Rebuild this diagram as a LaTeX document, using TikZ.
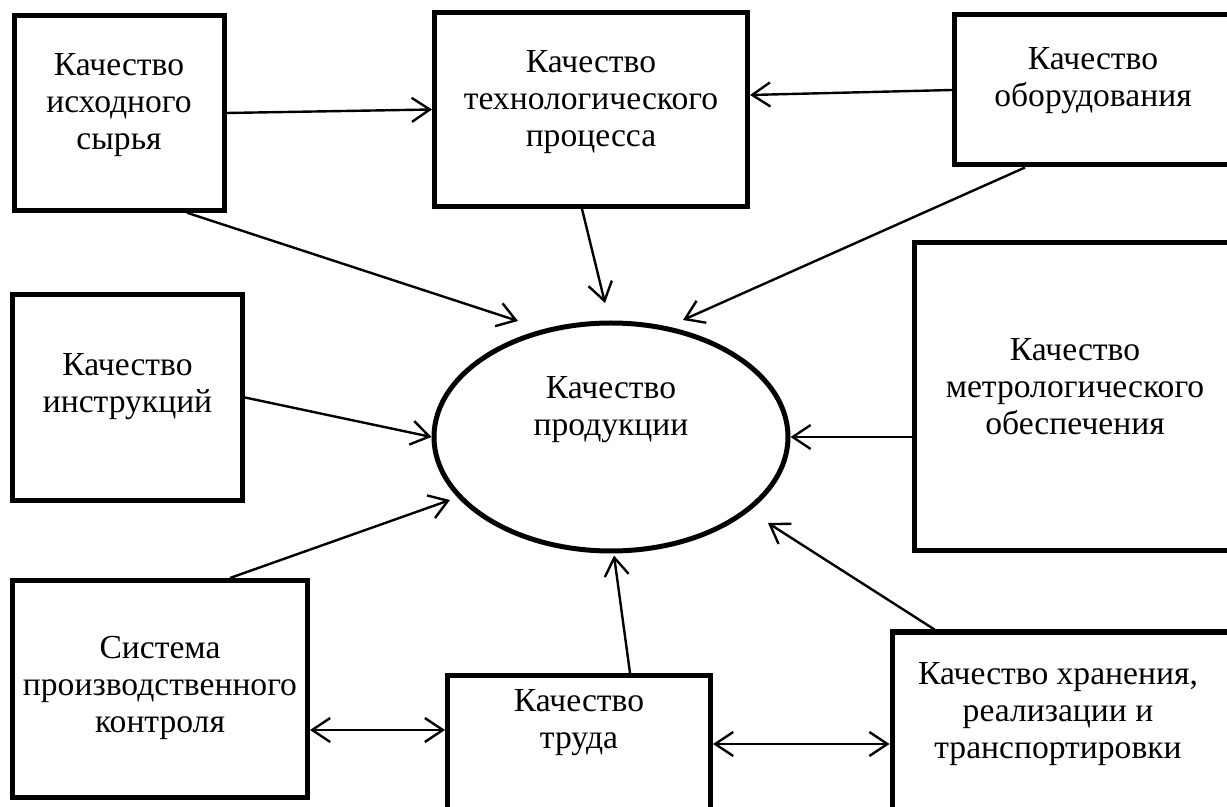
\documentclass[tikz,border=0pt]{standalone}
\usepackage{fontspec}
\setmainfont{Liberation Serif}
\usetikzlibrary{shapes.geometric,arrows.meta,calc}

\begin{document}
\begin{tikzpicture}[
					x = 0.5pt, y = -0.5pt,
					box/.style = {draw, line width = 2.5pt, inner sep = 0pt, align = center, text depth = 11pt},
					arr/.style = {line width = 1.2pt, -{Straight Barb[length = 9pt, width = 12pt]}},
					darr/.style = {line width = 1.2pt, {Straight Barb[length = 9pt, width = 12pt]}-{Straight Barb[length = 9pt, width = 12pt]}},
					every node/.style = {font = \fontsize{16.8}{18.5}\selectfont}]

					\clip (0,0) rectangle (1227,807);
					\fill[white] (0,0) rectangle (1227,807);

					\node[box, minimum width = 105pt, minimum height = 97.25pt] (syr) at (119,113) {Качество\\исходного\\сырья};
					\node[box, minimum width = 156.5pt, minimum height = 97pt] (tech) at (591,109.5) {Качество\\технологического\\процесса};
					\node[box, minimum width = 138.5pt, minimum height = 75pt, text depth = 13pt] (obor) at (1093,90) {Качество\\оборудования};
					\node[box, minimum width = 115pt, minimum height = 103pt, text depth = 14pt] (instr) at (127.5,397.5) {Качество\\инструкций};
					\node[draw, ellipse, line width = 2.5pt, inner sep = 0pt, align = center, text depth = 31pt, minimum width = 177pt, minimum height = 114pt] (prod) at (611,437) {Качество\\продукции};
					\node[box, minimum width = 160.5pt, minimum height = 154pt, text depth = 10pt] (metr) at (1075,396.5) {Качество\\метрологического\\обеспечения};
					\node[box, minimum width = 147.5pt, minimum height = 108.5pt, text depth = 5pt] (sist) at (160,689) {Система\\производственного\\контроля};
					\node[box, minimum width = 131.5pt, minimum height = 92pt] (trud) at (579,767.5) {};
					\node[align = center] (trudtxt) at (579,723) {Качество\\труда};
					\node[box, minimum width = 175pt, minimum height = 100pt] (hran) at (1067,732) {};
					\node[align = center] (hrantxt) at (1058,714) {Качество хранения,\\реализации и\\транспортировки};

					\draw[arr] (syr.east) -- (tech.west);
					\draw[arr] (obor.west) -- ($(tech.east)+(0,-14.5)$);
					\draw[arr] ($(syr.south)+(68,0)$) -- ($(prod.center)+(-93,-116)$);
					\draw[arr] ($(tech.south)+(-9,0)$) -- ($(prod.center)+(-6,-134)$);
					\draw[arr] ($(obor.south)+(-68,0)$) -- ($(prod.center)+(72,-117)$);
					\draw[arr] (instr.east) -- (prod.west);
					\draw[arr] ($(metr.west)+(0,40.5)$) -- (prod.east);
					\draw[arr] ($(sist.north)+(70,0)$) -- ($(prod.center)+(-161,63)$);
					\draw[arr] ($(trud.north)+(51,0)$) -- ($(prod.south)+(3,2)$);
					\draw[arr] ($(hran.north west)+(45,0)$) -- ($(prod.center)+(157,86)$);
					\draw[darr] ($(sist.east)+(0,41)$) -- ($(trud.west)+(0,-37.5)$);
					\draw[darr] ($(trud.east)+(0,-23.5)$) -- ($(hran.west)+(0,12)$);

				\end{tikzpicture}
\end{document}
